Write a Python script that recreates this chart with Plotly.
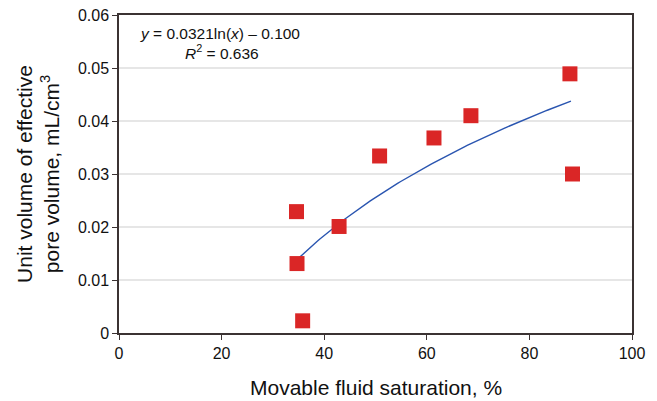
import numpy as np
import plotly.graph_objects as go

# Movable fluid saturation (%) and unit volume of effective pore volume (mL/cm3)
saturation = [34.6, 34.7, 35.8, 42.9, 50.8, 61.4, 68.6, 87.9, 88.4]
pore_volume = [0.0229, 0.0131, 0.0023, 0.0201, 0.0334, 0.0368, 0.0410, 0.0489, 0.0300]

# Logarithmic trend: y = a*ln(x) + b
trend_a = 0.0321
trend_b = -0.100
r_squared = 0.636

x_ticks = [0, 20, 40, 60, 80, 100]
y_ticks = [0, 0.01, 0.02, 0.03, 0.04, 0.05, 0.06]
y_tick_text = ["0", "0.01", "0.02", "0.03", "0.04", "0.05", "0.06"]

FONT = "Liberation Sans, Arial, sans-serif"
AXIS_COLOR = "#3b3333"

tx = np.linspace(min(saturation), 88.1, 120)
ty = trend_a * np.log(tx) + trend_b

fig = go.Figure()
fig.add_trace(go.Scatter(
    x=tx, y=ty, mode="lines",
    line=dict(color="#2a55b0", width=1.4),
    hoverinfo="skip", showlegend=False,
))
fig.add_trace(go.Scatter(
    x=saturation, y=pore_volume, mode="markers",
    marker=dict(symbol="square", size=15, color="#da2626", line=dict(width=0)),
    showlegend=False,
))

fig.update_layout(
    width=657, height=401,
    margin=dict(l=119, r=25, t=15, b=68),
    paper_bgcolor="white", plot_bgcolor="white",
    font=dict(family=FONT, size=14, color="#111111"),
    xaxis=dict(
        range=[0, 100], tickvals=x_ticks, ticks="outside", ticklen=5,
        tickcolor=AXIS_COLOR, showline=True, linecolor=AXIS_COLOR, linewidth=1.5,
        mirror=True, showgrid=False, zeroline=False, automargin=False,
        tickfont=dict(size=16),
    ),
    yaxis=dict(
        range=[0, 0.06], tickvals=y_ticks, ticktext=y_tick_text,
        ticks="outside", ticklen=5, tickcolor=AXIS_COLOR,
        showline=True, linecolor=AXIS_COLOR, linewidth=1.5, mirror=True,
        showgrid=True, gridcolor="#e6e6e6", gridwidth=1.5, zeroline=False,
        automargin=False, tickfont=dict(size=16),
    ),
    annotations=[
        dict(
            text="Movable fluid saturation, %", xref="paper", yref="paper",
            x=0.5, y=-0.172, xanchor="center", yanchor="middle", showarrow=False,
            font=dict(size=21),
        ),
        dict(
            text="Unit volume of effective<br>pore volume, mL/cm<sup>3</sup>",
            xref="paper", yref="paper", x=-0.158, y=0.5,
            xanchor="center", yanchor="middle", textangle=-90, showarrow=False,
            font=dict(size=21),
        ),
        dict(
            text=f"<i>y</i> = {trend_a:.4f}ln(<i>x</i>) \u2013 {abs(trend_b):.3f}",
            xref="paper", yref="paper", x=0.196, y=0.943,
            xanchor="center", yanchor="middle", showarrow=False,
            font=dict(size=15.5),
        ),
        dict(
            text=f"<i>R</i><sup>2</sup> = {r_squared:.3f}",
            xref="paper", yref="paper", x=0.2, y=0.883,
            xanchor="center", yanchor="middle", showarrow=False,
            font=dict(size=15.5),
        ),
    ],
)

fig.write_html("out.html")
